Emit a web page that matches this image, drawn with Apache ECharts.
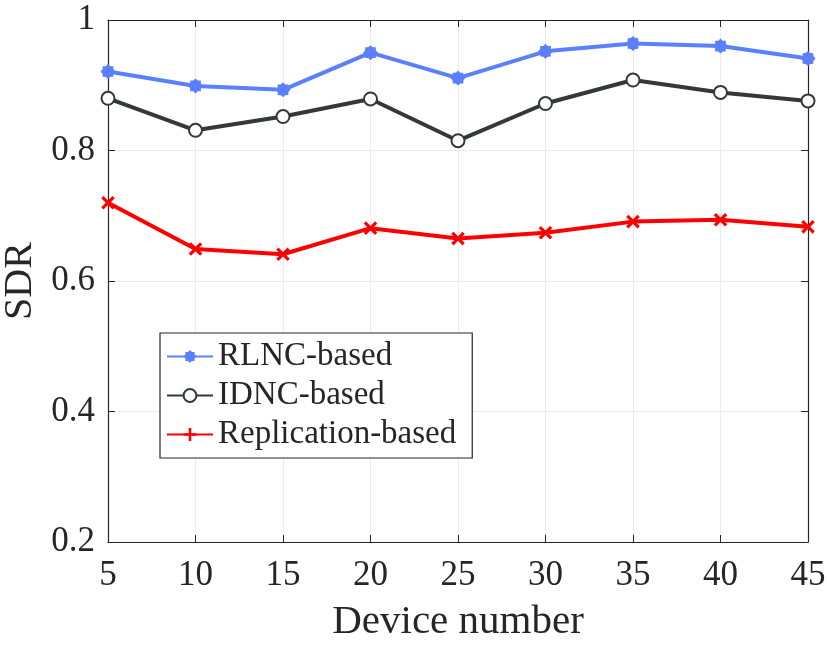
<!DOCTYPE html>
<html>
<head>
<meta charset="utf-8">
<script src="https://cdn.jsdelivr.net/npm/echarts@6/dist/echarts.min.js"></script>
<style>html,body{margin:0;padding:0;background:#fff;}#c{width:827px;height:645px;}</style>
</head>
<body>
<div id="c"></div>
<script>
const deviceNumbers = [5, 10, 15, 20, 25, 30, 35, 40, 45];
const rlnc = [0.921, 0.899, 0.893, 0.950, 0.911, 0.952, 0.964, 0.960, 0.941];
const idnc = [0.880, 0.831, 0.852, 0.879, 0.815, 0.872, 0.908, 0.889, 0.876];
const replication = [0.720, 0.649, 0.641, 0.681, 0.665, 0.674, 0.691, 0.694, 0.683];
const seriesNames = ['RLNC-based', 'IDNC-based', 'Replication-based'];
const yTicks = [0.2, 0.4, 0.6, 0.8, 1];

// marker shapes (style only)
function starPath(n, rOut, rIn) {
  let d = '';
  for (let i = 0; i < 2 * n; i++) {
    const r = i % 2 === 0 ? rOut : rIn;
    const a = Math.PI * i / n - Math.PI / 2;
    d += (i === 0 ? 'M' : 'L') + (10 + r * Math.cos(a)).toFixed(2) + ',' + (10 + r * Math.sin(a)).toFixed(2);
  }
  return 'path://' + d + 'Z';
}
const asterisk = starPath(8, 10, 7.8);
const plus = 'path://M4,0H6V4H10V6H6V10H4V6H0V4H4Z';

const font = '"Liberation Serif", "Times New Roman", serif';
const txt = '#262626';
const toPairs = arr => deviceNumbers.map((x, i) => [x, arr[i]]);

const chart = echarts.init(document.getElementById('c'));
chart.setOption({
  animation: false,
  backgroundColor: '#fff',
  grid: { left: 108, right: 19, top: 20, bottom: 103, containLabel: false, outerBoundsMode: 'none' },
  xAxis: [{
    type: 'value', min: 5, max: 45, interval: 5,
    name: 'Device number', nameLocation: 'middle', nameGap: 60,
    nameTextStyle: { fontFamily: font, fontSize: 41, color: txt },
    axisLine: { lineStyle: { color: txt, width: 1.2 } },
    axisTick: { inside: true, length: 7, lineStyle: { color: txt } },
    axisLabel: { fontFamily: font, fontSize: 35, color: txt, margin: 16 },
    splitLine: { show: true, lineStyle: { color: '#ececec', width: 1 } }
  }, {
    type: 'value', min: 5, max: 45, interval: 5, position: 'top',
    axisLine: { show: true, onZero: false, lineStyle: { color: txt, width: 1.2 } },
    axisTick: { show: true, inside: true, length: 7, lineStyle: { color: txt } },
    axisLabel: { show: false }, splitLine: { show: false }
  }],
  yAxis: [{
    type: 'value', min: 0.2, max: 1, interval: 0.2,
    name: 'SDR', nameLocation: 'middle', nameGap: 66,
    nameTextStyle: { fontFamily: font, fontSize: 40, color: txt },
    axisLine: { show: true, lineStyle: { color: txt, width: 1.2 } },
    axisTick: { show: true, inside: true, length: 7, lineStyle: { color: txt } },
    axisLabel: { fontFamily: font, fontSize: 35, color: txt, margin: 13,
      formatter: v => { const t = yTicks.find(k => Math.abs(k - v) < 1e-9); return t === undefined ? '' : String(t); } },
    splitLine: { show: true, lineStyle: { color: '#ececec', width: 1 } }
  }, {
    type: 'value', min: 0.2, max: 1, interval: 0.2, position: 'right',
    axisLine: { show: true, onZero: false, lineStyle: { color: txt, width: 1.2 } },
    axisTick: { show: true, inside: true, length: 7, lineStyle: { color: txt } },
    axisLabel: { show: false }, splitLine: { show: false }
  }],
  legend: {
    orient: 'vertical', left: 160, top: 333,
    width: 312, padding: [7, 16, 7, 6], itemGap: 6,
    backgroundColor: '#fff', borderColor: txt, borderWidth: 1.2,
    itemWidth: 46, itemHeight: 16,
    textStyle: { fontFamily: font, fontSize: 33, color: txt, padding: [0, 0, 0, 0] },
    data: [
      { name: seriesNames[0] },
      { name: seriesNames[1] },
      { name: seriesNames[2], symbolRotate: 0 }
    ]
  },
  series: [{
    name: seriesNames[0], type: 'line', data: toPairs(rlnc),
    symbol: asterisk, symbolSize: 15, z: 3,
    lineStyle: { color: '#5b80ff', width: 4 },
    itemStyle: { color: '#5b80ff' }
  }, {
    name: seriesNames[1], type: 'line', data: toPairs(idnc),
    symbol: 'emptyCircle', symbolSize: 13, z: 3,
    lineStyle: { color: '#333838', width: 4 },
    itemStyle: { color: '#333838', borderWidth: 3.2, borderColor: '#333838' }
  }, {
    name: seriesNames[2], type: 'line', data: toPairs(replication),
    symbol: plus, symbolSize: 16, symbolRotate: 45, z: 3,
    lineStyle: { color: '#ff0000', width: 4 },
    itemStyle: { color: '#ff0000' }
  }]
});
</script>
</body>
</html>
